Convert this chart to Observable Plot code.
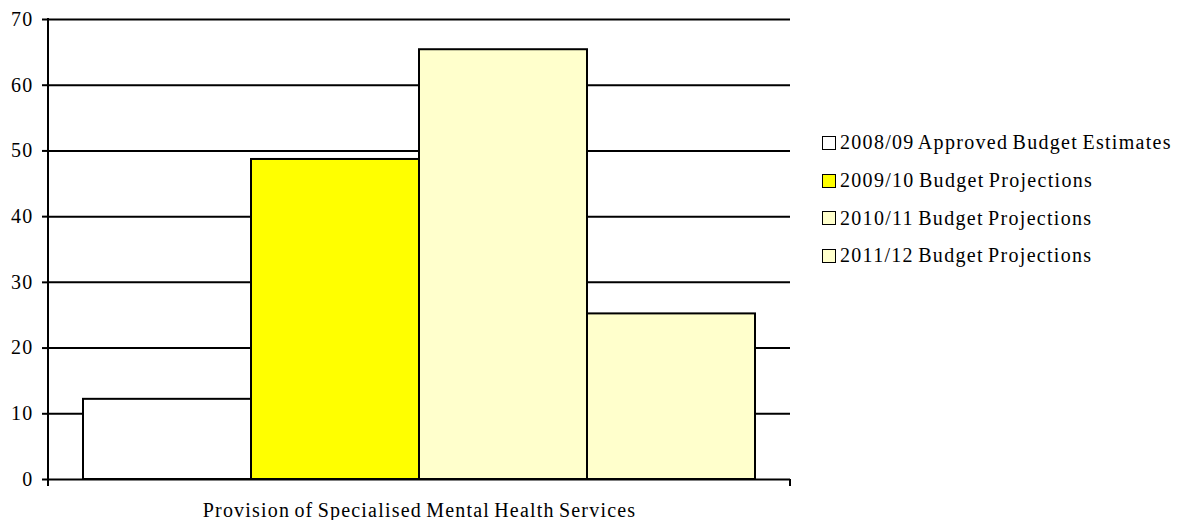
<!DOCTYPE html>
<html>
<head>
<meta charset="utf-8">
<script src="https://cdn.jsdelivr.net/npm/d3@7"></script>
<script src="https://cdn.jsdelivr.net/npm/@observablehq/plot@0.6"></script>
<style>
  body { margin: 0; background: #fff; font-family: "Liberation Serif", "Times New Roman", serif; }
  #wrap { position: relative; width: 1187px; height: 520px; }
  #wrap svg text { letter-spacing: 1.2px; word-spacing: -2px; }
  #legend { position: absolute; left: 822px; top: 124px; font-size: 20px; letter-spacing: 1.3px; word-spacing: -2px; color: #000; }
  .item { display: flex; align-items: center; height: 37.7px; white-space: nowrap; }
  .sw { width: 12px; height: 12px; border: 1.5px solid #000; margin-right: 4px; box-sizing: content-box; flex: none; }
</style>
</head>
<body>
<div id="wrap"></div>
<script>
// Budget by year for one programme area
const categories = ["Provision of Specialised Mental Health Services"];
const series = [
  "2008/09 Approved Budget Estimates",
  "2009/10 Budget Projections",
  "2010/11 Budget Projections",
  "2011/12 Budget Projections"
];
const values = [12.2, 48.7, 65.4, 25.2];
const colors = ["#ffffff", "#ffff00", "#ffffcc", "#ffffcc"];
const yTicks = [0, 10, 20, 30, 40, 50, 60, 70];

const data = series.map((s, i) => ({ category: categories[0], series: s, value: values[i] }));

const lineWidth = 2;

const chart = Plot.plot({
  width: 1187,
  height: 520,
  marginLeft: 48,
  marginRight: 397,
  marginTop: 19,
  marginBottom: 41,
  style: { fontFamily: '"Liberation Serif", "Times New Roman", serif', fontSize: "20px", color: "#000", background: "#fff", overflow: "visible" },
  fx: { domain: categories, padding: 0, label: null, axis: "bottom", tickSize: 0, tickPadding: 23 },
  x: { domain: series, paddingInner: 0, paddingOuter: 0.2, axis: null },
  y: { domain: [0, 70], label: null, axis: null },
  color: { domain: series, range: colors },
  marks: [
    Plot.gridY(yTicks, { stroke: "#000", strokeOpacity: 1, strokeWidth: lineWidth }),
    Plot.barY(data, { fx: "category", x: "series", y: "value", fill: "series", stroke: "#000", strokeWidth: lineWidth }),
    Plot.axisY(yTicks, { tickSize: 6, tickPadding: 9, stroke: "#000", strokeWidth: lineWidth, label: null, fontSize: 20 })
  ]
});

// axis line on the left and the boundary tick on the right of the category band
const fxRange = chart.scale("fx").range;
const yRange = chart.scale("y").range;
const y0 = yRange[0], yTop = yRange[1];
const svg = d3.select(chart.tagName.toLowerCase() === "svg" ? chart : chart.querySelector("svg"));
const g = svg.append("g").attr("stroke", "#000").attr("stroke-width", lineWidth);
g.append("line").attr("x1", fxRange[0]).attr("x2", fxRange[0]).attr("y1", yTop - 1).attr("y2", y0 + 7);
g.append("line").attr("x1", fxRange[1]).attr("x2", fxRange[1]).attr("y1", y0).attr("y2", y0 + 7);

const wrap = document.getElementById("wrap");
wrap.appendChild(chart);

// legend
const legend = document.createElement("div");
legend.id = "legend";
series.forEach((s, i) => {
  const item = document.createElement("div");
  item.className = "item";
  const sw = document.createElement("span");
  sw.className = "sw";
  sw.style.background = colors[i];
  const label = document.createElement("span");
  label.textContent = s;
  item.appendChild(sw);
  item.appendChild(label);
  legend.appendChild(item);
});
wrap.appendChild(legend);
</script>
</body>
</html>
